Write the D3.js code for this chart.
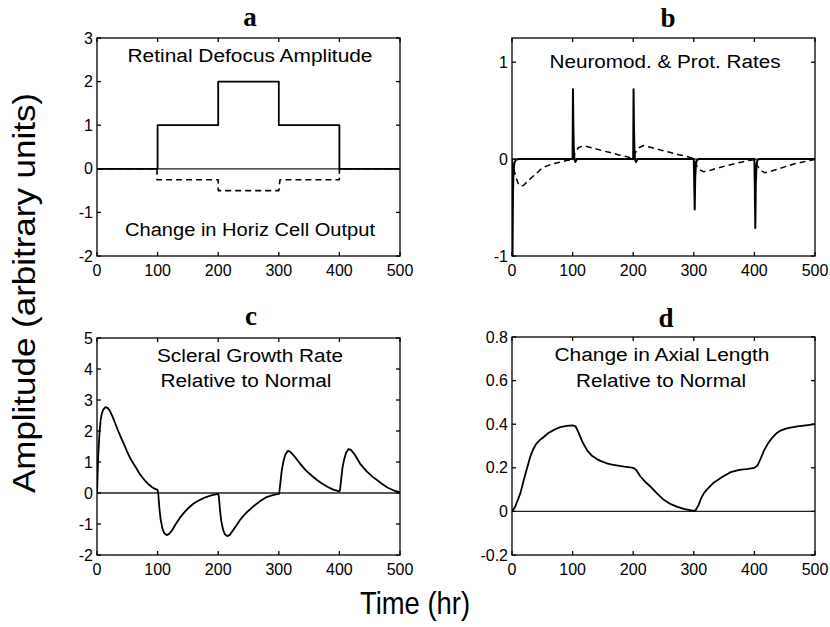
<!DOCTYPE html>
<html><head><meta charset="utf-8">
<script src="https://cdn.jsdelivr.net/npm/d3@7"></script>
<style>
html,body{margin:0;padding:0;background:#fff;}
svg{display:block;}
text{font-family:"Liberation Sans",Arial,sans-serif;fill:#000;}
.ttl{font-family:"Liberation Serif","Times New Roman",serif;font-weight:bold;}
</style></head><body>
<svg id="chart" width="830" height="627"></svg>
<script>
// ---------- data ----------
const timeTicks = [0, 100, 200, 300, 400, 500];

// Panel a
const aTicksY = [-2, -1, 0, 1, 2, 3];
const aDefocusT = [0, 100, 100, 200, 200, 300, 300, 400, 400, 500];
const aDefocusV = [0, 0, 1, 1, 2, 2, 1, 1, 0, 0];
const aHorizT = [0, 99, 99, 200, 200, 300, 302, 400, 400, 500];
const aHorizV = [0, 0, -0.25, -0.25, -0.5, -0.5, -0.25, -0.25, 0, 0];

// Panel b
const bTicksY = [-1, 0, 1];
const bSpikeT = [0, 0.8, 1.6, 2.5, 4, 6, 10, 100, 100.6, 101.2, 102, 103, 104.5, 107, 200, 200.6, 201.2, 202, 203, 204.5, 207, 300, 300.7, 301.5, 302.3, 303.5, 305, 308, 400, 400.7, 401.5, 402.3, 403.5, 405, 408, 500];
const bSpikeV = [0, -1, -0.35, -0.12, -0.04, -0.01, 0, 0, 0.72, 0.35, 0.1, 0, -0.03, 0, 0, 0.72, 0.35, 0.1, 0, -0.03, 0, 0, -0.25, -0.52, -0.2, -0.05, -0.01, 0, 0, -0.3, -0.71, -0.25, -0.06, -0.01, 0, 0];
const bProtT = [0, 3, 6, 10, 16, 20, 25, 30, 35, 40, 45, 50, 60, 70, 80, 90, 100, 105, 110, 118, 130, 140, 150, 162, 175, 184, 198, 205, 210, 217, 230, 240, 250, 262, 275, 284, 298, 300, 305, 310, 316, 325, 335, 350, 365, 380, 390, 400, 405, 410, 417, 425, 435, 450, 465, 480, 490, 500];
const bProtV = [0, -0.1, -0.18, -0.25, -0.28, -0.265, -0.235, -0.205, -0.175, -0.15, -0.12, -0.09, -0.065, -0.045, -0.03, -0.015, -0.005, 0.08, 0.12, 0.137, 0.12, 0.103, 0.085, 0.068, 0.045, 0.034, 0.01, 0.08, 0.12, 0.14, 0.12, 0.103, 0.085, 0.068, 0.045, 0.034, 0.01, 0, -0.07, -0.11, -0.13, -0.12, -0.1, -0.075, -0.05, -0.03, -0.015, -0.005, -0.07, -0.115, -0.14, -0.13, -0.11, -0.08, -0.05, -0.03, -0.015, -0.005];

// Panel c
const cTicksY = [-2, -1, 0, 1, 2, 3, 4, 5];
const cGrowthT = [0, 1, 2, 4, 6, 8, 10, 14, 18, 22, 26, 30, 35, 40, 45, 50, 55, 60, 65, 70, 75, 80, 85, 90, 95, 100,
  101, 103, 105, 108, 111, 115, 119, 124, 130, 136, 143, 150, 160, 170, 180, 190, 200,
  201, 203, 205, 208, 211, 215, 219, 224, 230, 236, 245, 258, 270, 280, 290, 300,
  301, 303, 305, 308, 311, 315, 319, 325, 335, 345, 355, 363, 370, 380, 390, 400,
  401, 403, 405, 408, 411, 415, 419, 425, 434, 445, 455, 462, 470, 480, 490, 500];
const cGrowthV = [0, 0.6, 1.2, 1.9, 2.35, 2.56, 2.68, 2.77, 2.74, 2.62, 2.45, 2.25, 2.0, 1.77, 1.55, 1.32, 1.12, 0.95, 0.8, 0.63, 0.5, 0.38, 0.28, 0.2, 0.14, 0.1,
  0.0, -0.5, -0.85, -1.15, -1.3, -1.36, -1.32, -1.2, -1.0, -0.82, -0.65, -0.5, -0.33, -0.22, -0.13, -0.07, -0.03,
  -0.1, -0.55, -0.9, -1.18, -1.33, -1.39, -1.35, -1.22, -1.05, -0.87, -0.66, -0.43, -0.25, -0.13, -0.07, -0.03,
  0.05, 0.4, 0.74, 1.05, 1.25, 1.36, 1.33, 1.2, 0.95, 0.72, 0.55, 0.42, 0.32, 0.2, 0.11, 0.05,
  0.1, 0.45, 0.8, 1.1, 1.3, 1.42, 1.39, 1.25, 0.95, 0.7, 0.52, 0.42, 0.3, 0.17, 0.08, 0.03];

// Panel d
const dTicksY = [-0.2, 0, 0.2, 0.4, 0.6, 0.8];
const dLengthT = [0, 5, 10, 14, 20, 25, 30, 35, 40, 45, 52, 60, 70, 80, 90, 100, 105, 110, 116, 124, 132, 140, 146, 155, 165, 175, 185, 195, 200, 205, 212, 220, 229, 240, 251, 262, 273, 285, 299, 303, 308, 312, 317, 325, 332, 339, 348, 361, 375, 390, 400, 405, 410, 416, 422, 430, 437, 444, 455, 471, 485, 500];
const dLengthV = [0, 0.02, 0.055, 0.085, 0.15, 0.2, 0.25, 0.285, 0.31, 0.325, 0.34, 0.36, 0.375, 0.387, 0.392, 0.395, 0.39, 0.36, 0.32, 0.28, 0.255, 0.24, 0.232, 0.222, 0.215, 0.21, 0.205, 0.202, 0.2, 0.19, 0.16, 0.135, 0.113, 0.08, 0.052, 0.033, 0.021, 0.01, 0.003, 0.005, 0.03, 0.06, 0.085, 0.11, 0.13, 0.143, 0.16, 0.18, 0.19, 0.195, 0.2, 0.21, 0.24, 0.28, 0.31, 0.34, 0.36, 0.372, 0.382, 0.39, 0.395, 0.4];

// ---------- drawing ----------
const svg = d3.select("#chart");

function zip(t, v) { return t.map((d, i) => [d, v[i]]); }

function panel(cfg) {
  const x = d3.scaleLinear().domain([0, 500]).range([cfg.l, cfg.r]);
  const y = d3.scaleLinear().domain(cfg.yd).range([cfg.b, cfg.t]);
  const g = svg.append("g");
  const clipId = "clip" + cfg.id;
  svg.append("clipPath").attr("id", clipId).append("rect")
    .attr("x", cfg.l).attr("y", cfg.t).attr("width", cfg.r - cfg.l).attr("height", cfg.b - cfg.t);

  // zero line
  g.append("line").attr("x1", x(0)).attr("x2", x(500)).attr("y1", y(0)).attr("y2", y(0))
    .attr("stroke", "#222").attr("stroke-width", 1.3);

  const line = d3.line().x(d => x(d[0])).y(d => y(d[1]));
  const pg = g.append("g").attr("clip-path", `url(#${clipId})`);
  cfg.series.forEach(s => {
    pg.append("path").attr("d", line(zip(s.t, s.v)))
      .attr("fill", "none").attr("stroke", "#000")
      .attr("stroke-width", s.w || 1.8)
      .attr("stroke-linejoin", "round")
      .attr("stroke-dasharray", s.dash ? "6,4" : null);
  });

  // axes (MATLAB box with inner ticks)
  const tl = 4;
  const ax = g.append("g").attr("stroke", "#000").attr("stroke-width", 1.3);
  ax.append("rect").attr("x", cfg.l).attr("y", cfg.t).attr("width", cfg.r - cfg.l).attr("height", cfg.b - cfg.t).attr("fill", "none");
  timeTicks.forEach(t => {
    ax.append("line").attr("x1", x(t)).attr("x2", x(t)).attr("y1", cfg.b).attr("y2", cfg.b - tl);
    ax.append("line").attr("x1", x(t)).attr("x2", x(t)).attr("y1", cfg.t).attr("y2", cfg.t + tl);
  });
  cfg.ticks.forEach(v => {
    ax.append("line").attr("x1", cfg.l).attr("x2", cfg.l + tl).attr("y1", y(v)).attr("y2", y(v));
    ax.append("line").attr("x1", cfg.r).attr("x2", cfg.r - tl).attr("y1", y(v)).attr("y2", y(v));
  });
  g.selectAll(".xt").data(timeTicks).enter().append("text")
    .attr("x", d => x(d)).attr("y", cfg.b + 20).attr("text-anchor", "middle")
    .style("font-size", "16px").text(d => d);
  g.selectAll(".yt").data(cfg.ticks).enter().append("text")
    .attr("x", cfg.l - 4).attr("y", d => y(d)).attr("dy", "0.35em").attr("text-anchor", "end")
    .style("font-size", "16px").text(d => String(d));

  // title letter
  g.append("text").attr("class", "ttl").attr("x", cfg.title.x).attr("y", cfg.title.y)
    .attr("text-anchor", "middle").style("font-size", "27px").text(cfg.title.s);
  // annotations
  cfg.notes.forEach(n => {
    g.append("text").attr("x", n.x).attr("y", n.y).attr("text-anchor", "middle")
      .style("font-size", "18px").attr("textLength", n.len).attr("lengthAdjust", "spacingAndGlyphs")
      .text(n.s);
  });
}

panel({ id: "a", l: 97, r: 400, t: 38, b: 256, yd: [-2, 3], ticks: aTicksY,
  series: [{ t: aDefocusT, v: aDefocusV }, { t: aHorizT, v: aHorizV, dash: true, w: 1.6 }],
  title: { s: "a", x: 250, y: 26 },
  notes: [{ s: "Retinal Defocus Amplitude", x: 250, y: 62, len: 245 },
          { s: "Change in Horiz Cell Output", x: 250, y: 236, len: 250 }] });

panel({ id: "b", l: 512, r: 815, t: 38, b: 256, yd: [-1, 1.25], ticks: bTicksY,
  series: [{ t: bSpikeT, v: bSpikeV, w: 2 }, { t: bProtT, v: bProtV, dash: true, w: 1.5 }],
  title: { s: "b", x: 668, y: 27 },
  notes: [{ s: "Neuromod. & Prot. Rates", x: 665, y: 68, len: 231 }] });

panel({ id: "c", l: 97, r: 400, t: 338, b: 555, yd: [-2, 5], ticks: cTicksY,
  series: [{ t: cGrowthT, v: cGrowthV }],
  title: { s: "c", x: 251, y: 325 },
  notes: [{ s: "Scleral Growth Rate", x: 250, y: 362, len: 186 },
          { s: "Relative to Normal", x: 246, y: 387, len: 171 }] });

panel({ id: "d", l: 512, r: 815, t: 337, b: 555, yd: [-0.2, 0.8], ticks: dTicksY,
  series: [{ t: dLengthT, v: dLengthV }],
  title: { s: "d", x: 666, y: 327 },
  notes: [{ s: "Change in Axial Length", x: 662, y: 361, len: 215 },
          { s: "Relative to Normal", x: 661, y: 387, len: 170 }] });

// shared axis labels
svg.append("text").attr("transform", "translate(35,293) rotate(-90)")
  .attr("text-anchor", "middle").style("font-size", "32px")
  .attr("textLength", 400).attr("lengthAdjust", "spacingAndGlyphs")
  .text("Amplitude (arbitrary units)");
svg.append("text").attr("x", 415).attr("y", 614)
  .attr("text-anchor", "middle").style("font-size", "32px")
  .attr("textLength", 110).attr("lengthAdjust", "spacingAndGlyphs")
  .text("Time (hr)");
</script>
</body></html>
